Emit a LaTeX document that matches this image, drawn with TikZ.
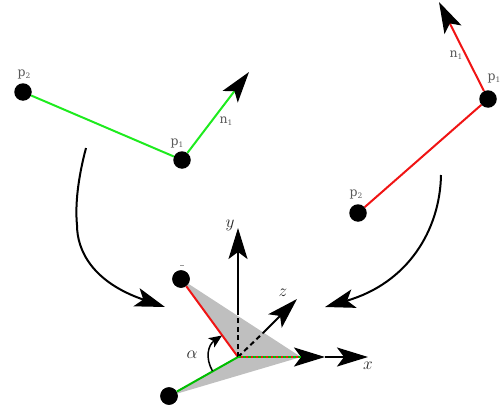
\documentclass[tikz,border=0pt]{standalone}
\usepackage{fontspec}
\newfontfamily\plabel{DejaVu Serif}
\usetikzlibrary{arrows.meta}
\definecolor{lgreen}{RGB}{30,235,30}
\definecolor{dgreen}{RGB}{0,190,0}
\definecolor{lred}{RGB}{240,20,20}
\newcommand{\subl}[2]{#1\raisebox{-2.5pt}{\fontsize{7.5pt}{8pt}\selectfont #2}}
\tikzset{
  dot/.style={circle,fill=black,draw=none,minimum size=17.5pt,inner sep=0pt},
  bigtip/.style={-{Stealth[length=30pt,width=19pt,inset=7pt]}},
  smalltip/.style={-{Stealth[length=31pt,width=19pt,inset=7pt]}},
  blacktip/.style={-{Stealth[length=31pt,width=19pt,inset=7pt,black]}},
  plab/.style={text=black!65,inner sep=0pt,font=\plabel\fontsize{12.5pt}{13pt}\selectfont},
  mathlab/.style={text=black!85,inner sep=0pt,font=\fontsize{17pt}{18pt}\selectfont},
  seg/.style={line width=2pt},
  axis/.style={line width=2pt,black},
  curved/.style={line width=2pt,black,bigtip},
}
\begin{document}
\begin{tikzpicture}[x=1pt,y=-1pt]
\useasboundingbox (0,0) rectangle (500,412);
% left line
\node[dot] (lptwo) at (23,92) {};
\node[dot] (lpone) at (182,160) {};
\coordinate (lntip) at (249,72);
\draw[seg,lgreen] (lptwo) -- (lpone);
\draw[seg,lgreen,blacktip] (lpone) -- (lntip);
\node[plab] at (24,74) {\subl{p}{2}};
\node[plab] at (177,143) {\subl{p}{1}};
\node[plab] at (226,121) {\subl{n}{1}};
% right line
\node[dot] (rptwo) at (358,213) {};
\node[dot] (rpone) at (488,99) {};
\coordinate (rntip) at (439,2);
\draw[seg,lred] (rptwo) -- (rpone);
\draw[seg,lred,blacktip] (rpone) -- (rntip);
\node[plab] at (456,55) {\subl{n}{1}};
\node[plab] at (494,78) {\subl{p}{1}};
\node[plab] at (356,194) {\subl{p}{2}};
% curved arrows
\coordinate (lcs) at (86,148);
\coordinate (lcm) at (77,225);
\coordinate (lce) at (165,307);
\coordinate (rcs) at (441,175);
\coordinate (rce) at (325,307);
\draw[curved] (lcs) .. controls (78,178) and (75,205) .. (lcm) .. controls (77,250) and (92,282) .. (lce);
\draw[curved] (rcs) .. controls (440,230) and (408,283) .. (rce);
% centre
\coordinate (o) at (238,357);
\coordinate (xend) at (301,357);
\coordinate (xmid) at (325,357);
\coordinate (xtip) at (368,357);
\coordinate (ytip) at (238,228);
\coordinate (ymid) at (238,313);
\coordinate (ztip) at (297,299);
\coordinate (zmid) at (263,333);
\node[dot] (ctop) at (181,279) {};
\node[dot] (cbot) at (169,396) {};
\fill[black!25] (ctop.center) -- (xend) -- (cbot.center) -- (o) -- cycle;
\node[dot] at (ctop) {};
\node[dot] at (cbot) {};
\draw[seg,lred] (ctop) -- (o);
\draw[seg,dgreen] (cbot) -- (o);
\draw[axis,smalltip] (ymid) -- (ytip);
\draw[axis,dash pattern=on 5pt off 3.5pt] (o) -- (ymid);
\draw[axis,smalltip] (zmid) -- (ztip);
\draw[axis,dash pattern=on 5pt off 3.5pt] (o) -- (zmid);
\draw[axis,smalltip] (xend) -- (xmid);
\draw[axis,smalltip] (xmid) -- (xtip);
\draw[seg,lred] (o) -- (xend);
\draw[seg,dgreen,dash pattern=on 2.5pt off 2.5pt] (o) -- (xend);
\coordinate (as) at (212.5,371);
\coordinate (ae) at (222,335.5);
\draw[line width=1.5pt,black,-{Stealth[length=13pt,width=11pt,inset=3pt]}] (as) .. controls (205,358) and (208,345) .. (ae);
\draw[black!40,line width=.6pt] (180,265.5) -- (183.5,265.5);
\node[mathlab] at (192,355) {$\alpha$};
\node[mathlab] at (368,366) {$x$};
\node[mathlab] at (230,225) {$y$};
\node[mathlab] at (283,293) {$z$};
\end{tikzpicture}
\end{document}
